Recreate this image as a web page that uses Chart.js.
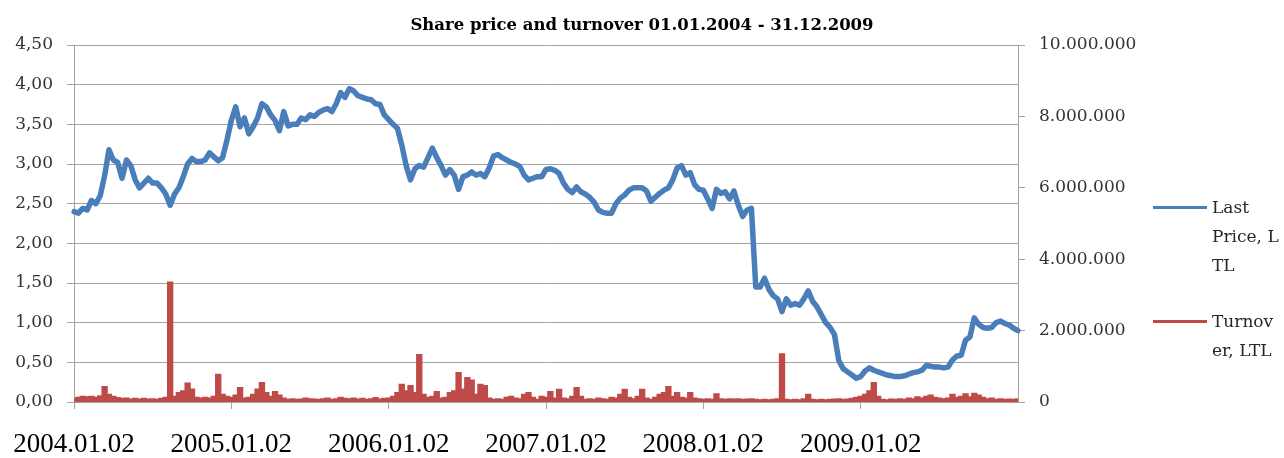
<!DOCTYPE html>
<html><head><meta charset="utf-8">
<script src="https://cdn.jsdelivr.net/npm/chart.js@4.4.0/dist/chart.umd.min.js"></script>
<style>
html,body{margin:0;padding:0;background:#fff;}
#wrap{position:relative;width:1284px;height:458px;overflow:hidden;}
canvas{display:block;}
.leg{position:absolute;left:1153px;font-family:"DejaVu Serif";font-size:17px;color:#262626;line-height:29px;}
.leg .sw{position:absolute;left:0;width:54px;height:3px;}
.leg .tx{position:absolute;left:59px;top:0;white-space:nowrap;}
</style></head>
<body><div id="wrap"><canvas id="c"></canvas></div>
<script>
// ---- DATA ----
const TITLE = 'Share price and turnover 01.01.2004 - 31.12.2009';
const seriesNames = ['Last Price, LTL', 'Turnover, LTL'];
const legendLines = [['Last', 'Price, L', 'TL'], ['Turnov', 'er, LTL']];
const years = [2004, 2005, 2006, 2007, 2008, 2009];
const dayParts = ['02', '11', '21'];
const priceTicks = [0, 0.5, 1, 1.5, 2, 2.5, 3, 3.5, 4, 4.5];
const turnoverTicks = [0, 2000000, 4000000, 6000000, 8000000, 10000000];

// Last price, LTL (about three readings per month)
const price = [
  // 2004
  2.40,2.38,2.44,2.42,2.54,2.50,2.60,2.85,3.18,3.05,3.02,2.82,
  3.05,2.98,2.80,2.70,2.76,2.82,2.76,2.76,2.70,2.62,2.48,2.62,
  2.70,2.84,3.00,3.07,3.03,3.03,3.05,3.14,3.09,3.04,3.08,3.30,
  // 2005
  3.55,3.72,3.47,3.58,3.38,3.47,3.58,3.76,3.72,3.62,3.55,3.42,
  3.66,3.48,3.50,3.50,3.58,3.56,3.62,3.60,3.65,3.68,3.70,3.66,
  3.76,3.90,3.84,3.95,3.92,3.86,3.84,3.82,3.81,3.76,3.75,3.62,
  // 2006
  3.56,3.50,3.45,3.24,2.98,2.80,2.94,2.98,2.96,3.08,3.20,3.08,
  2.98,2.86,2.93,2.86,2.68,2.84,2.86,2.90,2.86,2.88,2.84,2.95,
  3.10,3.12,3.08,3.05,3.02,3.00,2.97,2.86,2.80,2.82,2.84,2.84,
  // 2007
  2.93,2.94,2.92,2.88,2.76,2.68,2.64,2.71,2.65,2.62,2.58,2.52,
  2.42,2.39,2.38,2.38,2.50,2.57,2.61,2.67,2.70,2.70,2.70,2.66,
  2.53,2.58,2.63,2.67,2.70,2.80,2.95,2.98,2.86,2.89,2.74,2.68,
  // 2008
  2.67,2.56,2.44,2.68,2.63,2.65,2.56,2.66,2.48,2.34,2.42,2.44,
  1.45,1.45,1.56,1.42,1.34,1.30,1.14,1.30,1.22,1.24,1.22,1.30,
  1.40,1.27,1.20,1.10,1.00,0.94,0.85,0.52,0.42,0.38,0.34,0.30,
  // 2009
  0.32,0.39,0.43,0.40,0.38,0.36,0.34,0.33,0.32,0.32,0.33,0.35,
  0.37,0.38,0.40,0.46,0.45,0.44,0.44,0.43,0.44,0.53,0.58,0.59,
  0.78,0.82,1.06,0.98,0.94,0.93,0.94,1.00,1.02,0.99,0.97,0.93,
  0.90
];

// Turnover, LTL
const turnover = [
  // 2004
  80000,120000,150000,130000,150000,120000,160000,420000,200000,150000,110000,90000,
  100000,70000,90000,70000,90000,70000,80000,60000,90000,120000,3350000,150000,
  250000,300000,520000,350000,120000,100000,120000,100000,150000,760000,200000,150000,
  // 2005
  120000,180000,390000,100000,120000,200000,350000,530000,250000,150000,280000,180000,
  100000,60000,80000,60000,70000,100000,80000,70000,60000,80000,100000,60000,
  80000,120000,90000,80000,100000,70000,90000,60000,80000,110000,70000,90000,
  // 2006
  100000,150000,250000,480000,300000,450000,250000,1320000,200000,120000,150000,280000,
  100000,120000,250000,300000,810000,350000,670000,600000,200000,480000,450000,100000,
  60000,80000,60000,120000,150000,100000,80000,200000,250000,120000,60000,150000,
  // 2007
  120000,280000,100000,340000,100000,80000,150000,390000,150000,60000,80000,60000,
  100000,80000,60000,120000,100000,200000,340000,120000,80000,150000,340000,100000,
  60000,120000,200000,250000,420000,150000,250000,120000,100000,250000,100000,80000,
  // 2008
  60000,80000,60000,220000,80000,60000,80000,70000,80000,60000,70000,80000,
  60000,50000,60000,50000,60000,80000,1340000,60000,50000,60000,50000,80000,
  200000,60000,50000,60000,50000,60000,70000,80000,60000,70000,90000,120000,
  // 2009
  150000,200000,300000,530000,150000,60000,50000,70000,60000,80000,60000,100000,
  80000,130000,100000,150000,180000,120000,100000,80000,100000,200000,120000,150000,
  220000,130000,230000,180000,120000,80000,100000,60000,80000,60000,70000,60000,
  80000
];

// categories: three dates per month, ending 2009.12.31
const categories = [];
years.forEach(y => {
  for (let m = 1; m <= 12; m++) {
    dayParts.forEach(d => categories.push(y + '.' + String(m).padStart(2, '0') + '.' + d));
  }
});
categories.push('2009.12.31');
const perYear = 36;

// ---- CHART ----
const GRID = '#a3a3a3';
const BLUE = '#4a7ebb';
const RED = '#be4b48';
const tickFont = { family: 'DejaVu Serif', size: 17 };

function fmtThousands(v) {
  return String(Math.round(v)).replace(/\B(?=(\d{3})+(?!\d))/g, '.');
}

new Chart(document.getElementById('c'), {
  type: 'line',
  data: {
    labels: categories,
    datasets: [
      { label: seriesNames[0], data: price, yAxisID: 'y', borderColor: BLUE, backgroundColor: BLUE,
        borderWidth: 5.5, pointRadius: 0, tension: 0, borderJoinStyle: 'round', borderCapStyle: 'round', order: 1 },
      { label: seriesNames[1], data: turnover, yAxisID: 'y1', borderColor: RED, backgroundColor: RED,
        borderWidth: 2, pointRadius: 0, tension: 0, stepped: 'middle', fill: 'origin', order: 2 }
    ]
  },
  options: {
    responsive: true,
    maintainAspectRatio: false,
    animation: false,
    events: [],
    layout: { padding: 0 },
    plugins: {
      legend: { display: false },
      tooltip: { enabled: false },
      title: {
        display: true, text: TITLE, color: '#000',
        font: { family: 'DejaVu Serif', size: 16.5, weight: 'bold', lineHeight: '20px' },
        padding: { top: 16, bottom: 9 }
      }
    },
    scales: {
      x: {
        type: 'category',
        offset: false,
        grid: {
          drawOnChartArea: false, drawTicks: true, tickLength: 7,
          tickColor: ctx => (ctx.index % perYear === 0 && ctx.index < categories.length - 1) ? GRID : 'rgba(0,0,0,0)'
        },
        border: { display: true, color: GRID, width: 1 },
        ticks: {
          autoSkip: false, maxRotation: 0, minRotation: 0, padding: 13,
          color: '#000', font: { family: 'Liberation Serif', size: 27, lineHeight: '46px' },
          callback: function (v, i) { return (i % perYear === 0 && i < categories.length - 1) ? categories[i] : ''; }
        },
        afterFit: s => { s.height = 56; }
      },
      y: {
        position: 'left', min: 0, max: 4.5,
        afterBuildTicks: s => { s.ticks = priceTicks.map(v => ({ value: v })); },
        grid: { color: GRID, lineWidth: 1, tickLength: 7, tickColor: GRID },
        border: { display: true, color: GRID, width: 1 },
        ticks: { padding: 14, color: '#333', font: tickFont,
          callback: v => Number(v).toFixed(2).replace('.', ',') },
        afterFit: s => { s.width = 74; }
      },
      y1: {
        position: 'right', min: 0, max: 10000000,
        afterBuildTicks: s => { s.ticks = turnoverTicks.map(v => ({ value: v })); },
        grid: { drawOnChartArea: false, tickLength: 7, tickColor: GRID },
        border: { display: true, color: GRID, width: 1 },
        ticks: { padding: 14, color: '#333', font: tickFont, callback: v => fmtThousands(v) },
        afterFit: s => { s.width = 266; }
      }
    }
  }
});

// ---- LEGEND (HTML text) ----
const wrap = document.getElementById('wrap');
const legTops = [193, 307];
[BLUE, RED].forEach((col, k) => {
  const d = document.createElement('div');
  d.className = 'leg';
  d.style.top = legTops[k] + 'px';
  const sw = document.createElement('div');
  sw.className = 'sw';
  sw.style.background = col;
  sw.style.top = '13px';
  d.appendChild(sw);
  const tx = document.createElement('div');
  tx.className = 'tx';
  tx.innerHTML = legendLines[k].join('<br>');
  d.appendChild(tx);
  wrap.appendChild(d);
});
</script>
</body></html>
